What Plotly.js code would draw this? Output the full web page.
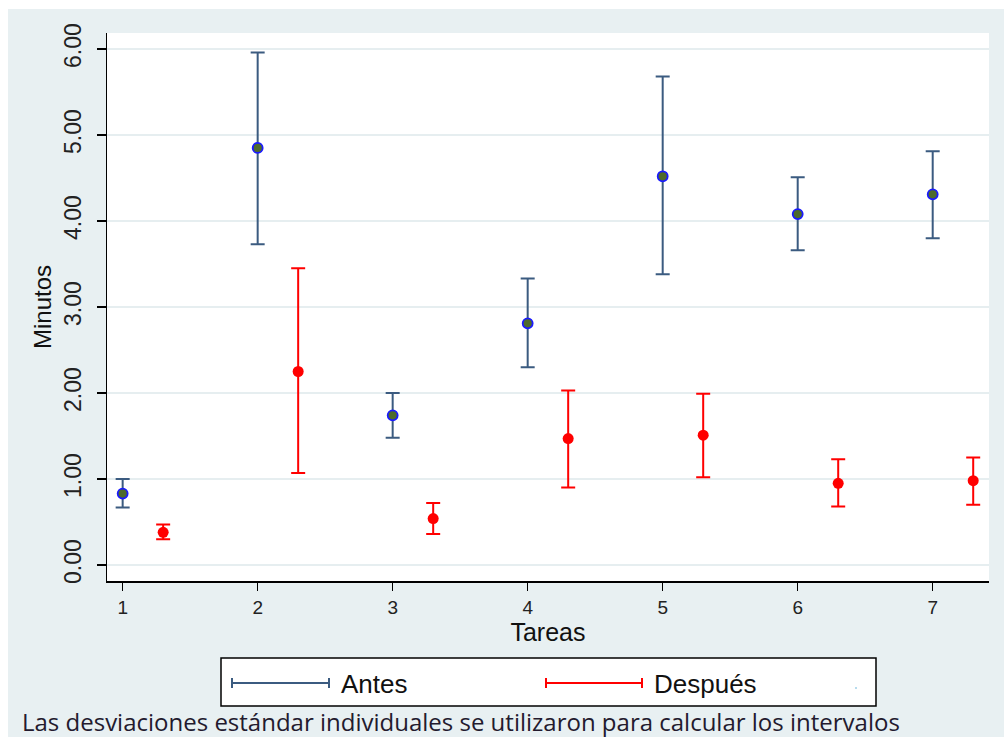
<!DOCTYPE html>
<html>
<head>
<meta charset="utf-8">
<script src="https://cdn.plot.ly/plotly-3.0.1.min.js"></script>
<style>
  html, body { margin: 0; padding: 0; background: #ffffff; width: 1004px; height: 737px; overflow: hidden; }
  #chart { position: absolute; left: 8px; top: 9px; width: 996px; height: 728px; }
</style>
</head>
<body>
<div id="chart"></div>
<script>
// ---- data ----
const tareas = [1, 2, 3, 4, 5, 6, 7];
const antesMedia    = [0.83, 4.85, 1.74, 2.81, 4.52, 4.08, 4.31];
const antesSup      = [1.00, 5.96, 2.00, 3.33, 5.68, 4.51, 4.81];
const antesInf      = [0.67, 3.73, 1.48, 2.30, 3.38, 3.66, 3.80];
const despuesMedia  = [0.38, 2.25, 0.54, 1.47, 1.51, 0.95, 0.98];
const despuesSup    = [0.47, 3.45, 0.72, 2.03, 1.99, 1.23, 1.25];
const despuesInf    = [0.30, 1.07, 0.36, 0.90, 1.02, 0.68, 0.70];
const yTicks = [0, 1, 2, 3, 4, 5, 6];
const serieNombres = ["Antes", "Después"];
const nota = "Las desviaciones estándar individuales se utilizaron para calcular los intervalos";

// ---- styling ----
const colAntesBar = "#3b5b80";
const colAntesFill = "#4e6a2c";
const colAntesEdge = "#1a1aff";
const colRed = "#ff0000";
const bg = "#e8f0f2";
const grid = "#e6eef0";

const offsetDespues = 0.3;

const traceAntes = {
  type: "scatter", mode: "markers", name: serieNombres[0],
  x: tareas, y: antesMedia,
  marker: { color: colAntesFill, size: 10, line: { color: colAntesEdge, width: 1.8 } },
  error_y: {
    type: "data", symmetric: false,
    array: antesSup.map((v, i) => v - antesMedia[i]),
    arrayminus: antesMedia.map((v, i) => v - antesInf[i]),
    color: colAntesBar, thickness: 2, width: 7
  },
  showlegend: false, hoverinfo: "x+y"
};
const traceDespues = {
  type: "scatter", mode: "markers", name: serieNombres[1],
  x: tareas.map(t => t + offsetDespues), y: despuesMedia,
  marker: { color: colRed, size: 11, line: { width: 0 } },
  error_y: {
    type: "data", symmetric: false,
    array: despuesSup.map((v, i) => v - despuesMedia[i]),
    arrayminus: despuesMedia.map((v, i) => v - despuesInf[i]),
    color: colRed, thickness: 2, width: 7
  },
  showlegend: false, hoverinfo: "x+y"
};

// pixel -> paper helpers (page pixels)
const PL = 107, PR = 989, PT = 33, PB = 581;
const px = x => (x - PL) / (PR - PL);
const py = y => (PB - y) / (PB - PT);

const shapes = [];
const annotations = [];
// legend box
shapes.push({ type: "rect", xref: "paper", yref: "paper",
  x0: px(221), x1: px(876), y0: py(706), y1: py(658),
  line: { color: "#000000", width: 1.5 }, fillcolor: "#ffffff", layer: "above" });
function legendItem(x0, x1, yc, color, label, tx) {
  shapes.push({ type: "line", xref: "paper", yref: "paper", x0: px(x0), x1: px(x1), y0: py(yc), y1: py(yc), line: { color: color, width: 2 } });
  shapes.push({ type: "line", xref: "paper", yref: "paper", x0: px(x0), x1: px(x0), y0: py(yc - 5), y1: py(yc + 5), line: { color: color, width: 2 } });
  shapes.push({ type: "line", xref: "paper", yref: "paper", x0: px(x1), x1: px(x1), y0: py(yc - 5), y1: py(yc + 5), line: { color: color, width: 2 } });
  annotations.push({ xref: "paper", yref: "paper", x: px(tx), y: py(yc + 1), xanchor: "left", yanchor: "middle",
    text: label, showarrow: false, font: { family: "Liberation Sans, Arial, sans-serif", size: 26, color: "#111111" } });
}
legendItem(232, 329, 683, colAntesBar, serieNombres[0], 339);
legendItem(546, 642, 683, colRed, serieNombres[1], 652);
shapes.push({ type: "circle", xref: "paper", yref: "paper", x0: px(855), x1: px(857), y0: py(689), y1: py(687),
  line: { width: 0 }, fillcolor: "#9fd0e8" });
// footnote
annotations.push({ xref: "paper", yref: "paper", x: px(20), y: py(722), xanchor: "left", yanchor: "middle",
  text: nota, showarrow: false, font: { family: "Open Sans, Noto Sans, sans-serif", size: 24, color: "#231a2e" } });

const layout = {
  width: 996, height: 728,
  margin: { l: PL - 8, r: 996 - (PR - 8), t: PT - 9, b: 728 - (PB - 9), pad: 0 },
  paper_bgcolor: bg, plot_bgcolor: "#ffffff",
  font: { family: "Liberation Sans, Arial, sans-serif", color: "#111111" },
  xaxis: {
    range: [0.884, 7.417], tickvals: tareas, ticktext: tareas.map(String),
    showgrid: false, zeroline: false,
    showline: true, linecolor: "#000000", linewidth: 1.5,
    ticks: "outside", ticklen: 8, tickwidth: 1.5, tickcolor: "#000000",
    tickfont: { size: 19, color: "#222222" }, ticklabelstandoff: 1,
    title: { text: "Tareas", font: { size: 25, color: "#111111" }, standoff: 0 }
  },
  yaxis: {
    range: [-0.186, 6.186], tickvals: yTicks, ticktext: yTicks.map(v => v.toFixed(2)),
    tickangle: -90,
    showgrid: true, gridcolor: grid, gridwidth: 1.5, zeroline: false,
    showline: true, linecolor: "#000000", linewidth: 1.5,
    ticks: "outside", ticklen: 9, tickwidth: 1.5, tickcolor: "#000000",
    tickfont: { size: 23, color: "#222222" }, ticklabelstandoff: 6,
    title: { text: "Minutos", font: { size: 24, color: "#111111" }, standoff: 2 }
  },
  shapes: shapes,
  annotations: annotations,
  showlegend: false
};

Plotly.newPlot("chart", [traceAntes, traceDespues], layout, { displayModeBar: false, staticPlot: true });
</script>
</body>
</html>
